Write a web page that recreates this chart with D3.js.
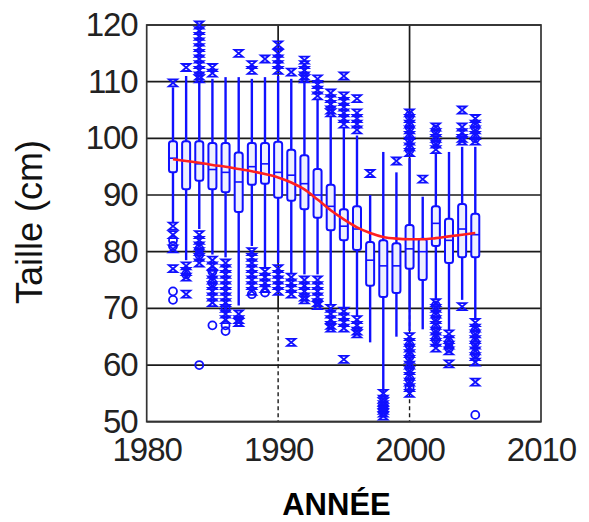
<!DOCTYPE html>
<html><head><meta charset="utf-8">
<script src="https://cdn.jsdelivr.net/npm/d3@7"></script>
<style>body{margin:0;background:#fff}svg{display:block}</style>
</head><body>
<svg id="chart" width="589" height="522"></svg>
<script>
const years = [1982,1983,1984,1985,1986,1987,1988,1989,1990,1991,1992,1993,1994,1995,1996,1997,1998,1999,2000,2001,2002,2003,2004,2005];
const whiskerHigh = [109,111,110,110.5,110.8,110.8,110.5,110.8,111,110.5,110,107,104,102,100.5,90,97.6,94,96.5,89.7,97.5,97.6,98.5,98.5];
const q3 = [99.5,99.5,99.5,99.2,99.2,97.5,99.2,99.2,99.4,98,97,94.6,91.8,87.5,88,81.7,82,81.5,84.7,82.3,88,85.8,88.4,86.7];
const medians = [96.5,96,95.5,94.5,94,92.3,95,95.5,94,93.5,92,90,88,84.5,84,78.5,77.5,77.5,80.5,80,85,82,84,83];
const q1 = [94,91,92.5,91,90.5,87,91.8,92,89.5,89,87.5,86,83.8,82,80.3,74,72,72.7,77,75,81,78,79,79];
const whiskerLow = [85,78.5,84,79.5,79,70.5,81,77,78,76,76,76,70.6,70,68.5,64,55,65,66,66.3,71.5,66,71.5,68];
const outliersX = [
  [109.8,84.5,83,80.5,77],
  [112.5,77.5,76.5,75.5,72.5],
  [120,119,118,117,116,115,114,113,112,111,110.5,83,82,81,80,79,78],
  [112.5,111.5,78.5,77.5,76,75,74,73,72,71],
  [78,77,76,75,74,73,72,71,70,69,68],
  [115,69,68,67.5],
  [113,112,80,79,78,77,76,75,74,73],
  [114,76.5,75.5,74.5,73.5],
  [116.5,115,114,113,112,77,76,75,74,73],
  [111.7,75.5,74.5,73.5,72.5,64],
  [113.8,113,112,111,110.5,75,74,73,72,71.5],
  [110.5,109.5,108.5,107.5,75,74,73,72,71,70.5],
  [108,107,106,105,104.5,70,69,68,67,66.5],
  [111,107.5,106.5,105.5,104.5,103.5,102.5,69.5,68.5,67.5,66.5,61],
  [107,104.5,103.5,102.5,101.5,68,67,66,65.5],
  [93.8],
  [55,54,53.5,53,52.5,52,51.5,51],
  [96],
  [104.5,103.5,102.5,101.5,100.5,99.5,98.5,97.5,65,64,63,62,61,60,59,58,57,56,55],
  [92.8],
  [102,101,100,99,98,71,70,69,68,67,66,65,64,63],
  [65.5,64.5,63.5,62.5,60.2],
  [105,102,101,100,99.5,70.3],
  [103.5,102.5,101.5,100.5,99.5,67.5,66.5,65.5,64.5,63.5,62.5,61.5,60.5,57]
];
const outliersO = [
  [82,81,73,71.5],
  [76],
  [80.5,79.5,60],
  [76.5,74.5,67],
  [70,67,66],
  [],
  [72.5],
  [72.8],
  [],[],[],[],[],[],[],[],[],[],
  [104,102,100,98,63.5,61.5,59.5,57.5,56],
  [],
  [101.5,99.5,70.5,68.5,66.5,64.5],
  [64,63],
  [],
  [102,100,66,64,62,51.2]
];
const trend = [96.3,96,95.7,95.3,95,94.6,94.2,93.7,93.1,92.2,91,89.2,87.3,85.7,84.3,83.3,82.6,82.3,82.2,82.2,82.4,82.7,83,83.3];
const xTicks = [1980,1990,2000,2010];
const yTicks = [50,60,70,80,90,100,110,120];
const xLabel = "ANNÉE";
const yLabel = "Taille (cm)";

const svg = d3.select("#chart");
const L = 146.7, R = 541, T = 25, B = 421.7;
const x = d3.scaleLinear().domain([1980,2010]).range([L,R]);
const y = d3.scaleLinear().domain([50,120]).range([B,T]);
const gridC = "#1a1a1a";
const blue = "#1010ff";
const font = "'Liberation Sans', Arial, sans-serif";

// horizontal grid
svg.append("g").selectAll("line").data(yTicks).join("line")
  .attr("x1",L).attr("x2",R).attr("y1",d=>y(d)).attr("y2",d=>y(d))
  .attr("stroke",gridC).attr("stroke-width",1.7);
// vertical grid (solid upper part, dashed lower part)
const vg = svg.append("g");
[1990,2000].forEach(v=>{
  vg.append("line").attr("x1",x(v)).attr("x2",x(v)).attr("y1",T).attr("y2",y(70))
    .attr("stroke",gridC).attr("stroke-width",1.7);
  vg.append("line").attr("x1",x(v)).attr("x2",x(v)).attr("y1",y(70)).attr("y2",B)
    .attr("stroke",gridC).attr("stroke-width",1.4).attr("stroke-dasharray","4,3");
});
// frame
svg.append("rect").attr("x",L).attr("y",T).attr("width",R-L).attr("height",B-T)
  .attr("fill","none").attr("stroke","#333").attr("stroke-width",1.7);

// boxes
const bw = 8;
const gb = svg.append("g");
years.forEach((yr,i)=>{
  const cx = x(yr);
  gb.append("line").attr("x1",cx).attr("x2",cx).attr("y1",y(whiskerHigh[i])).attr("y2",y(whiskerLow[i]))
    .attr("stroke",blue).attr("stroke-width",2.4);
  gb.append("rect").attr("x",cx-bw/2).attr("y",y(q3[i])).attr("width",bw).attr("height",y(q1[i])-y(q3[i]))
    .attr("rx",2.5).attr("fill","#eef0ff").attr("stroke",blue).attr("stroke-width",2);
  gb.append("line").attr("x1",cx-bw/2).attr("x2",cx+bw/2).attr("y1",y(medians[i])).attr("y2",y(medians[i]))
    .attr("stroke",blue).attr("stroke-width",1.6);
});
// outliers
const go = svg.append("g").attr("fill","none").attr("stroke",blue).attr("stroke-width",1.8);
years.forEach((yr,i)=>{
  const cx = x(yr);
  outliersX[i].forEach(v=>{
    go.append("path").attr("transform",`translate(${cx},${y(v)})`)
      .attr("d","M-4.2,-3.5L4.2,-3.5L-4.2,3.5L4.2,3.5Z");
  });
  outliersO[i].forEach(v=>{
    go.append("circle").attr("cx",cx).attr("cy",y(v)).attr("r",4);
  });
});
// trend
svg.append("path").datum(years.map((yr,i)=>[yr,trend[i]]))
  .attr("fill","none").attr("stroke","#ff2020").attr("stroke-width",2.6)
  .attr("d",d3.line().x(d=>x(d[0])).y(d=>y(d[1])).curve(d3.curveMonotoneX));

// axes
const ax = svg.append("g").attr("transform",`translate(0,${B})`)
  .call(d3.axisBottom(x).tickValues(xTicks).tickFormat(d3.format("d")).tickSize(0).tickPadding(16));
ax.select(".domain").remove();
ax.selectAll("text").attr("font-family",font).attr("font-size",33).attr("fill","#222").attr("letter-spacing","-1");
const ay = svg.append("g").attr("transform",`translate(${L},0)`)
  .call(d3.axisLeft(y).tickValues(yTicks).tickFormat(d3.format("d")).tickSize(0).tickPadding(9));
ay.select(".domain").remove();
ay.selectAll("text").attr("font-family",font).attr("font-size",33).attr("fill","#222").attr("letter-spacing","-1");

svg.append("text").attr("transform","translate(42,222) rotate(-90)")
  .attr("text-anchor","middle").attr("font-family",font).attr("font-size",36).attr("fill","#111").text(yLabel);
svg.append("text").attr("x",336.5).attr("y",515)
  .attr("text-anchor","middle").attr("font-family",font).attr("font-size",31).attr("font-weight","bold").attr("fill","#000").text(xLabel);
</script>
</body></html>
